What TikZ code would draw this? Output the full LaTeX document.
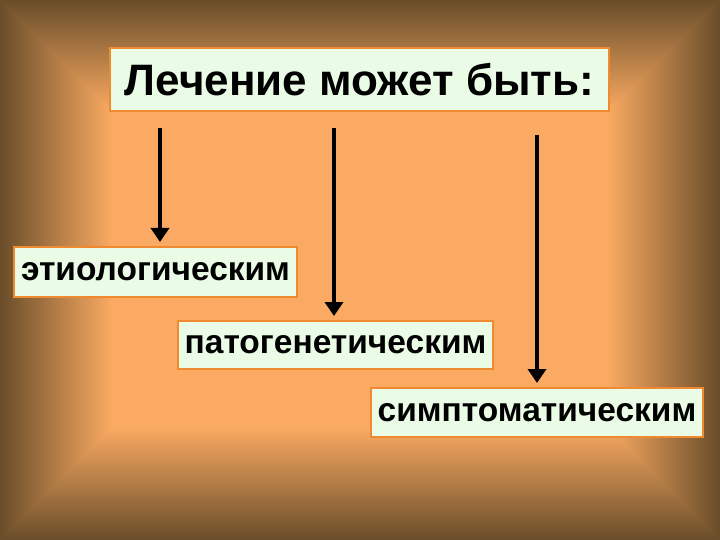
\documentclass[tikz,border=0pt]{standalone}
\usepackage{fontspec}
\setmainfont{Liberation Sans}
\usetikzlibrary{arrows.meta}
\definecolor{boxfill}{HTML}{EAFBE6}
\definecolor{boxline}{HTML}{F08A30}
\definecolor{bgin}{HTML}{FAAA62}
\definecolor{bgout}{HTML}{6A4E2A}
\tikzset{lbl/.style={draw=boxline,line width=1.2pt,fill=boxfill,inner sep=0pt,font=\fontsize{33.5}{35}\selectfont\bfseries},
 arr/.style={line width=4pt,-{Triangle[length=14pt,width=18pt]}}}
\begin{document}
\begin{tikzpicture}[x=1pt,y=-1pt]
\useasboundingbox (0,0) rectangle (720,540);
\fill[bgout] (0,0) rectangle (720,540);
\foreach \i in {0,...,60}{
  \pgfmathsetmacro{\p}{min(100,\i*1.8)}
  \fill[bgin!\p!bgout] (\i*2,\i*2) rectangle (720-\i*2,540-\i*2);
}
\node[lbl,minimum width=499pt,minimum height=63pt,font=\fontsize{44}{46}\selectfont\bfseries] (t) at (359.5,79.5) {Лечение может быть:};
\node[lbl,minimum width=283pt,minimum height=50pt] (a) at (155.5,272) {этиологическим};
\node[lbl,minimum width=315pt,minimum height=48pt] (b) at (335.5,345) {патогенетическим};
\node[lbl,minimum width=332pt,minimum height=49pt] (c) at (537,412.5) {симптоматическим};
\coordinate (s1) at (160,128); \coordinate (e1) at (160,242);
\coordinate (s2) at (334,128); \coordinate (e2) at (334,316);
\coordinate (s3) at (537,135); \coordinate (e3) at (537,383);
\draw[arr] (s1) -- (e1);
\draw[arr] (s2) -- (e2);
\draw[arr] (s3) -- (e3);
\end{tikzpicture}
\end{document}
